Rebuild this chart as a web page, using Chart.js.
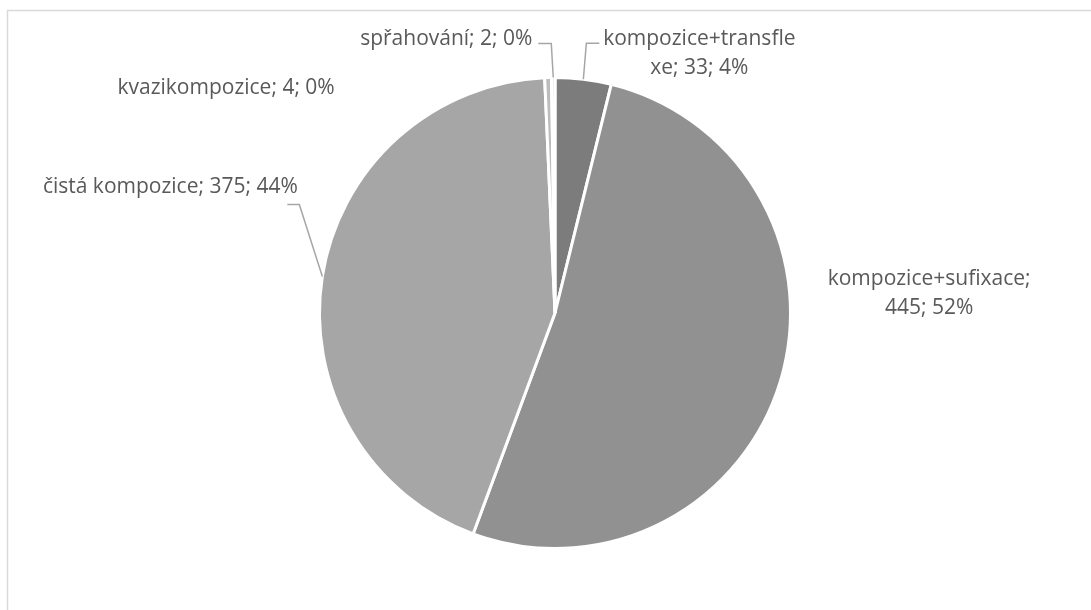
<!DOCTYPE html>
<html>
<head>
<meta charset="utf-8">
<script src="https://cdn.jsdelivr.net/npm/chart.js@4.4.0/dist/chart.umd.min.js"></script>
<style>
  html, body { margin: 0; padding: 0; background: #ffffff; }
  #wrap { position: relative; width: 1091px; height: 610px; }
</style>
</head>
<body>
<div id="wrap"><canvas id="c" width="1091" height="610"></canvas></div>
<script>
const categories = ["kompozice+transflexe", "kompozice+sufixace", "čistá kompozice", "kvazikompozice", "spřahování"];
const counts = [33, 445, 375, 4, 2];
const sliceColors = ["#7c7c7c", "#919191", "#a6a6a6", "#bcbcbc", "#cfcfcf"];

// label layout relative to slice's outer mid-point (anchor)
const labelLayout = [
  { breakAt: 18, dx: 116, dy: -34, leader: [[3, -36], [16, -36]] },
  { breakAt: 19, dx: 149, dy: -97, leader: null },
  { breakAt: 0, dx: -152, dy: -84, leader: [[-23, -72], [-35, -72]] },
  { breakAt: 0, dx: -322, dy: 16, leader: null },
  { breakAt: 0, dx: -107, dy: -33, leader: [[-2, -34], [-15, -34]] }
];

const FONT = '21px "Open Sans", "DejaVu Sans", sans-serif';
const LINE_H = 29;

const total = counts.reduce((a, b) => a + b, 0);

const frame = {
  id: 'frame',
  beforeDraw(chart) {
    const ctx = chart.ctx;
    ctx.save();
    ctx.fillStyle = '#ffffff';
    ctx.fillRect(0, 0, chart.width, chart.height);
    ctx.strokeStyle = '#d9d9d9';
    ctx.lineWidth = 1.5;
    ctx.beginPath();
    ctx.moveTo(chart.width + 5, 10.5);
    ctx.lineTo(7.5, 10.5);
    ctx.lineTo(7.5, chart.height + 5);
    ctx.stroke();
    ctx.restore();
  }
};

const labels = {
  id: 'pieLabels',
  afterDatasetsDraw(chart) {
    const ctx = chart.ctx;
    const meta = chart.getDatasetMeta(0);
    ctx.save();
    ctx.font = FONT;
    ctx.textAlign = 'center';
    ctx.textBaseline = 'alphabetic';
    meta.data.forEach((arc, i) => {
      const p = arc.getProps(['x', 'y', 'startAngle', 'endAngle', 'outerRadius'], true);
      const mid = (p.startAngle + p.endAngle) / 2;
      const ax = p.x + p.outerRadius * Math.cos(mid);
      const ay = p.y + p.outerRadius * Math.sin(mid);
      const lay = labelLayout[i];
      const pct = Math.round(counts[i] / total * 100);
      const full = categories[i] + '; ' + counts[i] + '; ' + pct + '%';
      let lines = [full];
      if (lay.breakAt > 0) {
        lines = [full.slice(0, lay.breakAt), full.slice(lay.breakAt).trim()];
      }
      if (lay.leader) {
        ctx.strokeStyle = '#a6a6a6';
        ctx.lineWidth = 1.5;
        ctx.beginPath();
        ctx.moveTo(ax, ay);
        lay.leader.forEach(pt => ctx.lineTo(ax + pt[0], ay + pt[1]));
        ctx.stroke();
      }
      ctx.fillStyle = '#595959';
      lines.forEach((t, k) => {
        ctx.fillText(t, ax + lay.dx, ay + lay.dy + k * LINE_H);
      });
    });
    ctx.restore();
  }
};

new Chart(document.getElementById('c'), {
  type: 'pie',
  data: {
    labels: categories,
    datasets: [{
      data: counts,
      backgroundColor: sliceColors,
      borderColor: '#ffffff',
      borderWidth: 3
    }]
  },
  options: {
    responsive: false,
    animation: false,
    layout: { padding: { left: 318, right: 299, top: 76, bottom: 60 } },
    plugins: {
      legend: { display: false },
      tooltip: { enabled: false }
    }
  },
  plugins: [frame, labels]
});
</script>
</body>
</html>
